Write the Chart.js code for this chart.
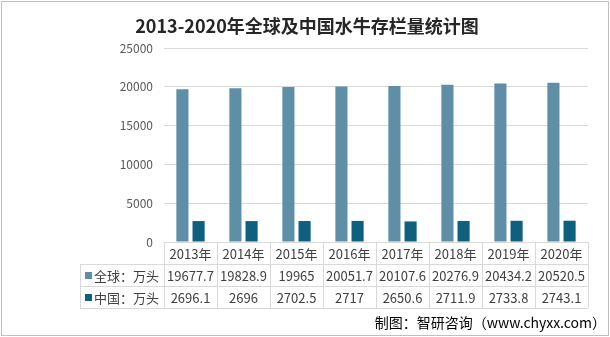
<!DOCTYPE html>
<html lang="zh">
<head>
  <meta charset="UTF-8" />
  <title>2013-2020年全球及中国水牛存栏量统计图</title>
  <script src="https://cdn.jsdelivr.net/npm/chart.js"></script>
  <style>
    html, body { margin: 0; padding: 0; background: #fff; }
    #wrap { width: 610px; height: 337px; position: relative; }
  </style>
</head>
<body>
  <div id="wrap"><canvas id="chart" width="610" height="337"></canvas></div>

  <script>
    const years = ['2013年', '2014年', '2015年', '2016年', '2017年', '2018年', '2019年', '2020年'];
    const globalValues = [19677.7, 19828.9, 19965, 20051.7, 20107.6, 20276.9, 20434.2, 20520.5];
    const chinaValues = [2696.1, 2696, 2702.5, 2717, 2650.6, 2711.9, 2733.8, 2743.1];
    const seriesNames = ['全球：万头', '中国：万头'];
    const yTicks = [0, 5000, 10000, 15000, 20000, 25000];
    const titleText = '2013-2020年全球及中国水牛存栏量统计图';
    const sourceText = '制图：智研咨询（www.chyxx.com）';

    const colors = ['#5E8FA7', '#0F5F7F'];
    const font = "'Noto Sans CJK SC', 'Noto Sans', sans-serif";

    // title, data table under the plot (laid out on the x scale), source note
    const tablePlugin = {
      id: 'dataTable',
      afterDraw(chart) {
        const ctx = chart.ctx;
        const x = chart.scales.x;
        const area = chart.chartArea;
        const rowH = 22;
        const top = area.bottom;
        const step = x.getPixelForValue(1) - x.getPixelForValue(0);
        const left = x.getPixelForValue(0) - step / 2;
        const right = x.getPixelForValue(years.length - 1) + step / 2;
        const labelLeft = 80;

        ctx.save();
        ctx.textAlign = 'center';
        ctx.textBaseline = 'middle';
        ctx.fillStyle = '#262626';
        ctx.font = 'bold 18px ' + font;
        ctx.fillText(titleText, chart.width / 2 + 2, 26);

        ctx.strokeStyle = '#D9D9D9';
        ctx.lineWidth = 1;
        ctx.beginPath();
        ctx.moveTo(left, top + rowH + 0.5); ctx.lineTo(right, top + rowH + 0.5);
        ctx.moveTo(labelLeft, top + rowH + 0.5); ctx.lineTo(left, top + rowH + 0.5);
        ctx.moveTo(labelLeft, top + 2 * rowH + 0.5); ctx.lineTo(right, top + 2 * rowH + 0.5);
        ctx.moveTo(labelLeft, top + 3 * rowH + 0.5); ctx.lineTo(right, top + 3 * rowH + 0.5);
        for (let i = 0; i <= years.length; i++) {
          const px = Math.round(left + i * step) + 0.5;
          ctx.moveTo(px, top); ctx.lineTo(px, top + 3 * rowH);
        }
        ctx.moveTo(labelLeft + 0.5, top + rowH); ctx.lineTo(labelLeft + 0.5, top + 3 * rowH);
        ctx.stroke();

        ctx.fillStyle = '#404040';
        ctx.font = '13px ' + font;
        years.forEach((y, i) => {
          ctx.fillText(y, x.getPixelForValue(i), top + rowH / 2 + 1);
        });
        [globalValues, chinaValues].forEach((vals, r) => {
          vals.forEach((v, i) => {
            ctx.fillText(String(v), x.getPixelForValue(i), top + rowH * (r + 1.5) + 1);
          });
          ctx.fillStyle = colors[r];
          ctx.fillRect(labelLeft + 5, top + rowH * (r + 1.5) - 3, 7, 7);
          ctx.fillStyle = '#404040';
          ctx.textAlign = 'left';
          ctx.fillText(seriesNames[r], labelLeft + 14, top + rowH * (r + 1.5) + 1);
          ctx.textAlign = 'center';
        });

        ctx.textAlign = 'right';
        ctx.fillStyle = '#000';
        ctx.font = '14px ' + font;
        ctx.fillText(sourceText, 606, 323);

        ctx.strokeStyle = '#BFBFBF';
        ctx.strokeRect(1.5, 1.5, chart.width - 3, chart.height - 3);
        ctx.restore();
      }
    };

    new Chart(document.getElementById('chart'), {
      type: 'bar',
      data: {
        labels: years,
        datasets: [
          { label: seriesNames[0], data: globalValues, backgroundColor: colors[0] },
          { label: seriesNames[1], data: chinaValues, backgroundColor: colors[1] }
        ]
      },
      options: {
        responsive: false,
        animation: false,
        layout: { padding: { left: 0, right: 22, top: 48, bottom: 87 } },
        datasets: { bar: { categoryPercentage: 0.61, barPercentage: 0.75 } },
        plugins: {
          legend: { display: false },
          tooltip: { enabled: false },
          title: { display: false }
        },
        scales: {
          x: {
            ticks: { display: false },
            grid: { display: false },
            border: { display: true, color: '#D9D9D9' }
          },
          y: {
            min: 0,
            max: 25000,
            afterBuildTicks: (s) => { s.ticks = yTicks.map(v => ({ value: v })); },
            afterFit: (s) => { s.width = 164; },
            ticks: {
              color: '#595959',
              font: { family: font, size: 12 },
              padding: 11,
              callback: (v) => String(v)
            },
            grid: { color: '#D9D9D9', drawTicks: false },
            border: { display: false }
          }
        }
      },
      plugins: [tablePlugin]
    });
  </script>
</body>
</html>
